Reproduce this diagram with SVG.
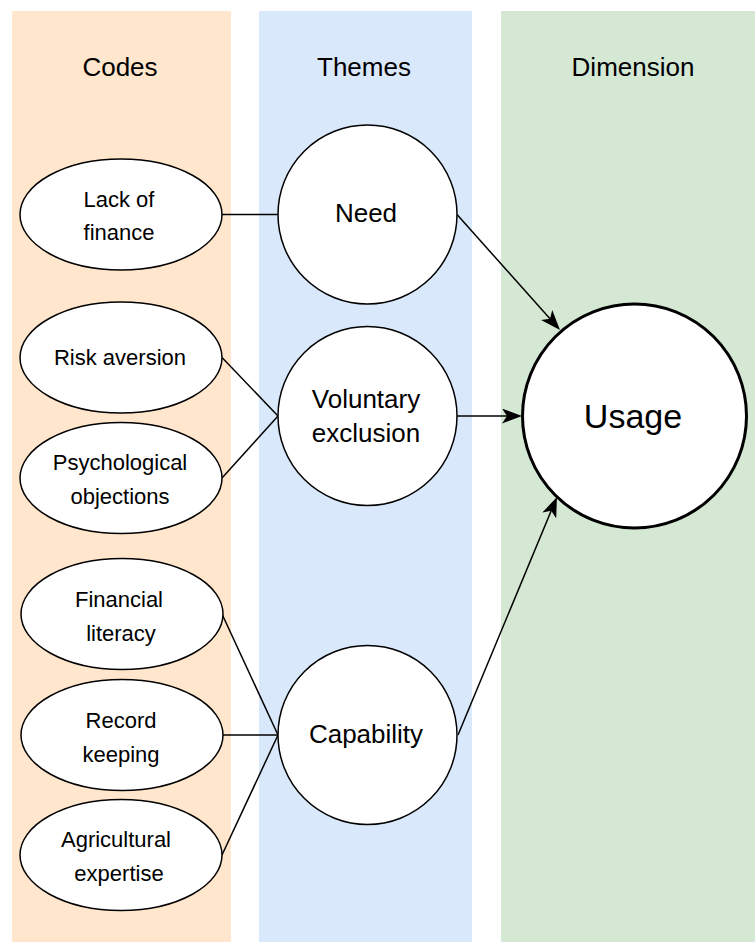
<svg xmlns="http://www.w3.org/2000/svg" width="755" height="942" viewBox="0 0 755 942">
<style>
  text { font-family: "Liberation Sans", Arial, sans-serif; fill: #000; text-anchor: middle; }
  .hdr { font-size: 26px; }
  .code { font-size: 22px; }
  .theme { font-size: 26px; }
  .dim { font-size: 34px; }
  .node { fill: #fff; stroke: #000; stroke-width: 1.5; }
  .big { fill: #fff; stroke: #000; stroke-width: 3; }
  .edge { fill: none; stroke: #000; stroke-width: 1.5; }
</style>
<defs>
  <marker id="arrow" markerUnits="userSpaceOnUse" viewBox="0 0 20 15" markerWidth="20" markerHeight="15" refX="5" refY="7.5" orient="auto">
    <path d="M0,0 L20,7.5 L0,15 L5,7.5 z" fill="#000"/>
  </marker>
</defs>

<g id="lanes">
  <g id="lane-codes">
    <rect x="12" y="11" width="219" height="931" fill="#ffe6cc"/>
    <text class="hdr" x="120" y="76">Codes</text>
  </g>
  <g id="lane-themes">
    <rect x="259" y="11" width="213" height="931" fill="#dae8fc"/>
    <text class="hdr" x="364" y="76">Themes</text>
  </g>
  <g id="lane-dimension">
    <rect x="501" y="11" width="254" height="931" fill="#d5e8d4"/>
    <text class="hdr" x="633" y="76">Dimension</text>
  </g>
</g>

<g id="connectors">
  <path class="edge" d="M222,214.5 L278,214.5"/>
  <path class="edge" d="M222,357.5 L278,416"/>
  <path class="edge" d="M222,478 L278,416"/>
  <path class="edge" d="M222,614 L278,735"/>
  <path class="edge" d="M222,735 L278,735"/>
  <path class="edge" d="M222,855 L278,735"/>
  <path class="edge" d="M457,214.5 L550,318.8" marker-end="url(#arrow)"/>
  <path class="edge" d="M457,416 L507,416" marker-end="url(#arrow)"/>
  <path class="edge" d="M458,735 L551.2,510.8" marker-end="url(#arrow)"/>
</g>

<g id="code-lack-of-finance">
  <ellipse class="node" cx="121" cy="214.5" rx="101" ry="55.5"/>
  <text class="code" x="119" y="206.5">Lack of</text>
  <text class="code" x="119" y="240">finance</text>
</g>
<g id="code-risk-aversion">
  <ellipse class="node" cx="121" cy="357.5" rx="101" ry="55.5"/>
  <text class="code" x="120" y="365">Risk aversion</text>
</g>
<g id="code-psychological-objections">
  <ellipse class="node" cx="121" cy="478" rx="101" ry="55.5"/>
  <text class="code" x="120" y="470">Psychological</text>
  <text class="code" x="120" y="503.5">objections</text>
</g>
<g id="code-financial-literacy">
  <ellipse class="node" cx="122" cy="614" rx="101" ry="55.5"/>
  <text class="code" x="119" y="607">Financial</text>
  <text class="code" x="121" y="640.5">literacy</text>
</g>
<g id="code-record-keeping">
  <ellipse class="node" cx="122" cy="735" rx="101" ry="55.5"/>
  <text class="code" x="121" y="728">Record</text>
  <text class="code" x="121" y="761.5">keeping</text>
</g>
<g id="code-agricultural-expertise">
  <ellipse class="node" cx="121" cy="855" rx="101" ry="55.5"/>
  <text class="code" x="116" y="847">Agricultural</text>
  <text class="code" x="119" y="880.5">expertise</text>
</g>

<g id="theme-need">
  <circle class="node" cx="367.5" cy="214.5" r="89.5"/>
  <text class="theme" x="366" y="222">Need</text>
</g>
<g id="theme-voluntary-exclusion">
  <circle class="node" cx="367.5" cy="416" r="89.5"/>
  <text class="theme" x="366" y="408">Voluntary</text>
  <text class="theme" x="366" y="442">exclusion</text>
</g>
<g id="theme-capability">
  <circle class="node" cx="367.5" cy="735" r="89.5"/>
  <text class="theme" x="366" y="743">Capability</text>
</g>

<g id="dimension-usage">
  <circle class="big" cx="634.5" cy="416" r="112"/>
  <text class="dim" x="633" y="428">Usage</text>
</g>
</svg>
